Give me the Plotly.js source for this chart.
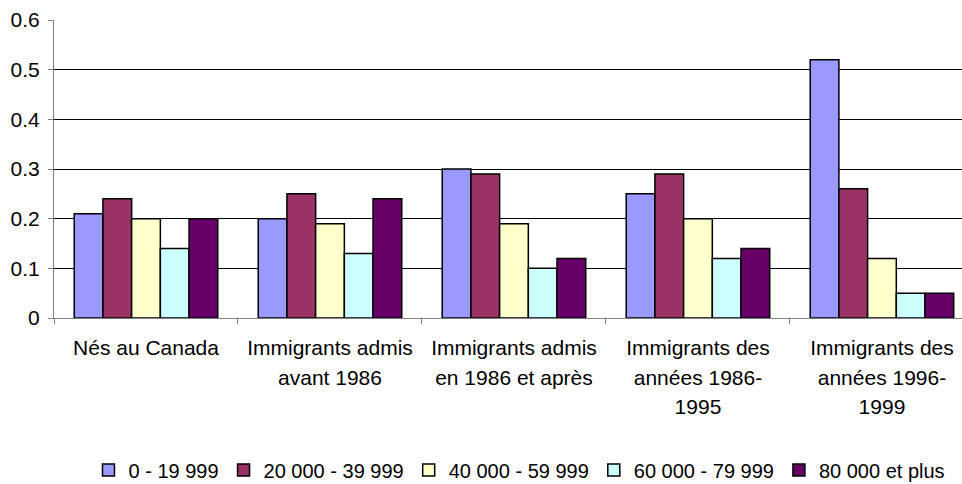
<!DOCTYPE html>
<html>
<head>
<meta charset="utf-8">
<script src="https://cdn.plot.ly/plotly-3.0.1.min.js"></script>
<style>html,body{margin:0;padding:0;background:#fff;}</style>
</head>
<body>
<div id="chart" style="width:962px;height:484px;"></div>
<script>
const categories = [
  "Nés au Canada",
  "Immigrants admis\navant 1986",
  "Immigrants admis\nen 1986 et après",
  "Immigrants des\nannées 1986-\n1995",
  "Immigrants des\nannées 1996-\n1999"
];
const seriesNames = ["0 - 19 999", "20 000 - 39 999", "40 000 - 59 999", "60 000 - 79 999", "80 000 et plus"];
const s1 = [0.21, 0.20, 0.30, 0.25, 0.52];
const s2 = [0.24, 0.25, 0.29, 0.29, 0.26];
const s3 = [0.20, 0.19, 0.19, 0.20, 0.12];
const s4 = [0.14, 0.13, 0.10, 0.12, 0.05];
const s5 = [0.20, 0.24, 0.12, 0.14, 0.05];
const colors = ["#9999FF", "#993366", "#FFFFCC", "#CCFFFF", "#660066"];
const yTicks = [0, 0.1, 0.2, 0.3, 0.4, 0.5, 0.6];

const FONT = "Liberation Sans, Arial, sans-serif";
const xLabels = categories.map(c => c.split("\n").map(s => '<span style="font-size:21px">' + s + '</span>').join("<br>"));
const allSeries = [s1, s2, s3, s4, s5];

const traces = allSeries.map((vals, i) => ({
  type: "bar",
  name: seriesNames[i],
  x: xLabels,
  y: vals,
  marker: { color: colors[i], line: { color: "#000000", width: 1.5 } },
  hoverinfo: "skip"
}));

const layout = {
  width: 962,
  height: 484,
  margin: { l: 54, r: 0, t: 20, b: 166 },
  paper_bgcolor: "#ffffff",
  plot_bgcolor: "#ffffff",
  font: { family: FONT, size: 20, color: "#000000" },
  barmode: "group",
  bargap: 0.22,
  bargroupgap: 0,
  showlegend: true,
  legend: {
    orientation: "h",
    xref: "container", yref: "container",
    x: 0.54, xanchor: "center",
    y: 0.029, yanchor: "middle",
    font: { family: FONT, size: 20, color: "#000000" },
    traceorder: "normal",
    itemwidth: 30
  },
  xaxis: {
    type: "category",
    range: [-0.5, 4.435],
    showline: true,
    linecolor: "#808080",
    linewidth: 1,
    ticks: "outside",
    tickson: "boundaries",
    ticklen: 5,
    tickcolor: "#808080",
    showgrid: false,
    zeroline: false,
    tickfont: { family: FONT, size: 23, color: "#000000" },
    tickangle: 0,
    ticklabelstandoff: 8,
    fixedrange: true
  },
  yaxis: {
    range: [0, 0.6],
    tickmode: "array",
    tickvals: yTicks,
    ticktext: yTicks.map(v => String(v)),
    showline: true,
    linecolor: "#808080",
    linewidth: 1,
    ticks: "outside",
    ticklen: 5,
    tickcolor: "#808080",
    showgrid: true,
    gridcolor: "#000000",
    gridwidth: 1,
    zeroline: false,
    tickfont: { family: FONT, size: 21, color: "#000000" },
    ticklabelstandoff: 4,
    fixedrange: true
  }
};

Plotly.newPlot("chart", traces, layout, { displayModeBar: false, staticPlot: true });
</script>
</body>
</html>
